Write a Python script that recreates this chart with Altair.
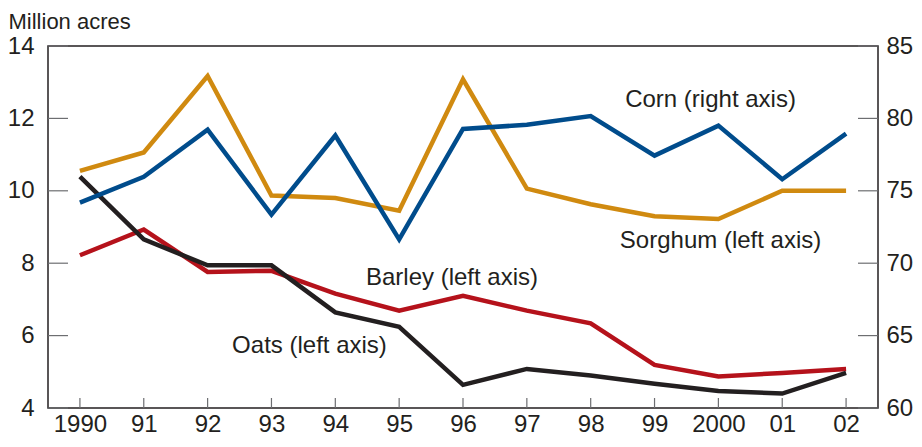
import altair as alt
import pandas as pd

years = ["1990", "91", "92", "93", "94", "95", "96", "97", "98", "99", "2000", "01", "02"]
sorghum = [10.55, 11.06, 13.17, 9.87, 9.80, 9.45, 13.08, 10.06, 9.63, 9.30, 9.22, 10.0, 10.0]
barley = [8.22, 8.93, 7.76, 7.79, 7.16, 6.69, 7.10, 6.69, 6.34, 5.19, 4.87, 4.97, 5.08]
oats = [10.39, 8.66, 7.94, 7.94, 6.64, 6.24, 4.64, 5.08, 4.90, 4.67, 4.47, 4.40, 4.97]
corn = [74.18, 75.97, 79.22, 73.35, 78.82, 71.65, 79.27, 79.56, 80.16, 77.43, 79.50, 75.80, 78.95]

left_ticks = [4, 6, 8, 10, 12, 14]
right_ticks = [60, 65, 70, 75, 80, 85]

series_names = ["Sorghum", "Barley", "Oats"]
series_colors = ["#d08a10", "#b5121b", "#231f20"]
corn_color = "#004c8c"

label_text = ["Corn (right axis)", "Sorghum (left axis)", "Barley (left axis)", "Oats (left axis)"]
label_year = ["99", "99", "96", "93"]
label_value = [81.24, 8.60, 7.60, 5.72]
label_dx = [56, 66, -11, 38]

FONT = "Liberation Sans"
FS = 24
TXT = "#231f20"
W, H = 830, 362

left_df = pd.DataFrame({
    "year": years * 3,
    "series": sum([[n] * len(years) for n in series_names], []),
    "value": sorghum + barley + oats,
})
corn_df = pd.DataFrame({"year": years, "value": corn})

xscale = alt.Scale(domain=years, type="point", padding=0.5)
xenc = alt.X("year:N", scale=xscale, sort=years,
             axis=alt.Axis(title=None, domain=False, ticks=False, grid=False,
                           labelFontSize=FS, labelFont=FONT, labelColor=TXT,
                           labelPadding=4, labelAngle=0))
lscale = alt.Scale(domain=[4, 14], nice=False, zero=False)
rscale = alt.Scale(domain=[60, 85], nice=False, zero=False)

left_lines = alt.Chart(left_df).mark_line(strokeWidth=4.5, strokeJoin="miter", strokeCap="butt").encode(
    x=xenc,
    y=alt.Y("value:Q", scale=lscale,
            axis=alt.Axis(values=left_ticks, orient="left", domain=False, ticks=False, grid=False,
                          labelFontSize=FS, labelFont=FONT, labelColor=TXT, labelPadding=14,
                          title="Million acres", titleAngle=0, titleAlign="left",
                          titleBaseline="alphabetic", titleX=-40, titleY=-18,
                          titleFont=FONT, titleFontSize=22, titleFontWeight="normal",
                          titleColor=TXT)),
    color=alt.Color("series:N", scale=alt.Scale(domain=series_names, range=series_colors), legend=None),
    detail="series:N",
)

corn_line = alt.Chart(corn_df).mark_line(strokeWidth=4.5, strokeJoin="miter", strokeCap="butt",
                                          color=corn_color).encode(
    x=xenc,
    y=alt.Y("value:Q", scale=rscale,
            axis=alt.Axis(values=right_ticks, orient="right", domain=False, ticks=False, grid=False,
                          labelFontSize=FS, labelFont=FONT, labelColor=TXT, labelPadding=8,
                          title=None)),
)

tick_color = "#6d6e71"
lt = alt.Chart(pd.DataFrame({"v": left_ticks})).mark_rule(color=tick_color, strokeWidth=1.2).encode(
    y=alt.Y("v:Q", scale=lscale, axis=None), x=alt.value(0), x2=alt.value(20))
rt = alt.Chart(pd.DataFrame({"v": right_ticks})).mark_rule(color=tick_color, strokeWidth=1.2).encode(
    y=alt.Y("v:Q", scale=rscale, axis=None), x=alt.value(W - 20), x2=alt.value(W))
xt = alt.Chart(pd.DataFrame({"year": years})).mark_rule(color=tick_color, strokeWidth=1.2).encode(
    x=xenc, y=alt.value(H), y2=alt.value(H - 10))

lab_df = pd.DataFrame({"text": label_text, "year": label_year, "value": label_value, "dx": label_dx})
texts = []
for i in range(len(label_text)):
    sc = rscale if i == 0 else lscale
    texts.append(alt.Chart(lab_df.iloc[[i]]).mark_text(
        font=FONT, fontSize=FS, color=TXT, align="center", baseline="middle", dx=label_dx[i]).encode(
        x=xenc, y=alt.Y("value:Q", scale=sc, axis=None), text="text:N"))

chart = alt.layer(lt, rt, xt, left_lines, corn_line, *texts).resolve_scale(y="independent").properties(
    width=W, height=H,
    autosize=alt.AutoSizeParams(type="none"),
    padding={"left": 40, "top": 38, "right": 36, "bottom": 31},
).configure_view(stroke="#231f20", strokeWidth=1.5)

chart.save("out.html", embed_options={"renderer": "svg", "actions": False})
